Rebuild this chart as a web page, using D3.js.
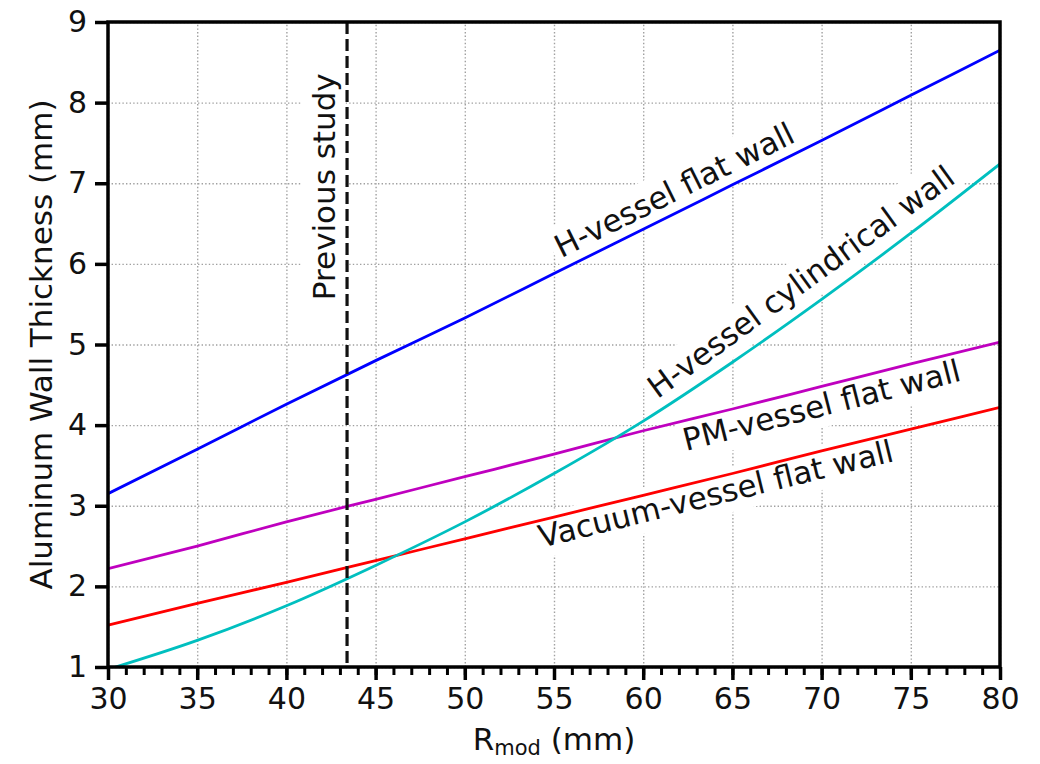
<!DOCTYPE html>
<html>
<head>
    <title>Aluminum Wall Thickness vs R_mod</title>
    <script src="https://cdn.jsdelivr.net/npm/d3@7"></script>
    <style>
        body {
            margin: 0;
            background-color: white;
            font-family: "DejaVu Sans", sans-serif;
        }
        .tick text {
            font-family: "DejaVu Sans", sans-serif;
        }
    </style>
</head>
<body>
    <div id="chart"></div>

    <script>
        // data
        const rmod = [30, 35, 40, 45, 50, 55, 60, 65, 70, 75, 80];
        const hVesselFlat = [3.15, 3.70, 4.26, 4.80, 5.33, 5.88, 6.43, 6.98, 7.53, 8.09, 8.65];
        const hVesselCyl = [0.97, 1.33, 1.76, 2.26, 2.80, 3.40, 4.05, 4.78, 5.56, 6.38, 7.24];
        const pmVesselFlat = [2.22, 2.50, 2.80, 3.08, 3.36, 3.64, 3.93, 4.20, 4.48, 4.76, 5.03];
        const vacVesselFlat = [1.52, 1.79, 2.05, 2.32, 2.59, 2.86, 3.13, 3.40, 3.68, 3.95, 4.22];
        const previousStudy = 43.4;

        const xTicks = [30, 35, 40, 45, 50, 55, 60, 65, 70, 75, 80];
        const xMinorTicks = d3.range(30, 81, 1);
        const yTicks = [1, 2, 3, 4, 5, 6, 7, 8, 9];

        const series = [
            { name: "H-vessel flat wall", values: hVesselFlat, color: "#0000ff" },
            { name: "PM-vessel flat wall", values: pmVesselFlat, color: "#bf00bf" },
            { name: "Vacuum-vessel flat wall", values: vacVesselFlat, color: "#ff0000" },
            { name: "H-vessel cylindrical wall", values: hVesselCyl, color: "#00bfbf" }
        ];

        // inline labels: anchor in data units + angle
        const labels = [
            { text: "H-vessel flat wall", x: 55.4, y: 6.07, angle: -26.4 },
            { text: "H-vessel cylindrical wall", x: 60.8, y: 4.32, angle: -36 },
            { text: "PM-vessel flat wall", x: 62.4, y: 3.68, angle: -14.3 },
            { text: "Vacuum-vessel flat wall", x: 54.3, y: 2.48, angle: -13.8 },
            { text: "Previous study", x: 42.7, y: 5.55, angle: -90 }
        ];

        const W = 1040, H = 764;
        const margin = { top: 22, right: 40, bottom: 97, left: 108 };
        const width = W - margin.left - margin.right;
        const height = H - margin.top - margin.bottom;

        const svg = d3.select("#chart")
            .append("svg")
            .attr("width", W)
            .attr("height", H);

        const g = svg.append("g")
            .attr("transform", `translate(${margin.left},${margin.top})`);

        const x = d3.scaleLinear().domain([30, 80]).range([0, width]);
        const y = d3.scaleLinear().domain([1, 9]).range([height, 0]);

        g.append("clipPath").attr("id", "clip")
            .append("rect").attr("width", width).attr("height", height);

        // grid
        const gridStyle = sel => sel.selectAll("line")
            .attr("stroke", "#a0a0a0")
            .attr("stroke-width", 1.4)
            .attr("stroke-dasharray", "1.4,2.2");

        g.append("g")
            .attr("transform", `translate(0,${height})`)
            .call(d3.axisBottom(x).tickValues(xTicks).tickSize(-height).tickFormat(""))
            .call(s => s.select(".domain").remove())
            .call(gridStyle);

        g.append("g")
            .call(d3.axisLeft(y).tickValues(yTicks).tickSize(-width).tickFormat(""))
            .call(s => s.select(".domain").remove())
            .call(gridStyle);

        // white boxes behind labels, drawn below the curves
        const boxLayer = g.append("g");
        const lineLayer = g.append("g").attr("clip-path", "url(#clip)");
        const textLayer = g.append("g");

        const line = d3.line()
            .x((d, i) => x(rmod[i]))
            .y(d => y(d))
            .curve(d3.curveMonotoneX);

        lineLayer.selectAll("path.series")
            .data(series)
            .enter()
            .append("path")
            .attr("class", "series")
            .attr("d", d => line(d.values))
            .attr("fill", "none")
            .attr("stroke", d => d.color)
            .attr("stroke-width", 2.8);

        // previous study marker
        g.append("line")
            .attr("x1", x(previousStudy))
            .attr("x2", x(previousStudy))
            .attr("y1", 0)
            .attr("y2", height)
            .attr("stroke", "#111")
            .attr("stroke-width", 3.2)
            .attr("stroke-dasharray", "12,5");

        labels.forEach(l => {
            const tr = `translate(${x(l.x)},${y(l.y)}) rotate(${l.angle})`;
            const t = textLayer.append("text")
                .attr("transform", tr)
                .attr("font-size", 31)
                .attr("fill", "#111")
                .text(l.text);
            const bb = t.node().getBBox();
            const pad = 4;
            boxLayer.append("rect")
                .attr("transform", tr)
                .attr("x", bb.x - pad)
                .attr("y", bb.y - pad)
                .attr("width", bb.width + 2 * pad)
                .attr("height", bb.height + 2 * pad)
                .attr("fill", "white");
        });

        // axes
        const xAxis = g.append("g")
            .attr("transform", `translate(0,${height})`)
            .call(d3.axisBottom(x).tickValues(xTicks).tickSize(13).tickPadding(8).tickFormat(d3.format("d")));
        xAxis.select(".domain").remove();
        xAxis.selectAll(".tick line").attr("stroke", "#000").attr("stroke-width", 3.5);
        xAxis.selectAll(".tick text").attr("font-size", 30).attr("fill", "#111");

        const xMinor = g.append("g")
            .attr("transform", `translate(0,${height})`)
            .call(d3.axisBottom(x).tickValues(xMinorTicks).tickSize(8).tickFormat(""));
        xMinor.select(".domain").remove();
        xMinor.selectAll(".tick line").attr("stroke", "#000").attr("stroke-width", 3);

        const yAxis = g.append("g")
            .call(d3.axisLeft(y).tickValues(yTicks).tickSize(13).tickPadding(8).tickFormat(d3.format("d")));
        yAxis.select(".domain").remove();
        yAxis.selectAll(".tick line").attr("stroke", "#000").attr("stroke-width", 3.5);
        yAxis.selectAll(".tick text").attr("font-size", 30).attr("fill", "#111");

        // frame
        g.append("rect")
            .attr("width", width)
            .attr("height", height)
            .attr("fill", "none")
            .attr("stroke", "#000")
            .attr("stroke-width", 3.5);

        // axis titles
        const xTitle = svg.append("text")
            .attr("x", margin.left + width / 2)
            .attr("y", 750)
            .attr("text-anchor", "middle")
            .attr("font-size", 31)
            .attr("fill", "#111");
        xTitle.append("tspan").text("R");
        xTitle.append("tspan").attr("font-size", 21).attr("dy", 5).text("mod");
        xTitle.append("tspan").attr("dy", -5).text(" (mm)");

        svg.append("text")
            .attr("transform", `translate(52,${margin.top + height / 2}) rotate(-90)`)
            .attr("text-anchor", "middle")
            .attr("font-size", 31)
            .attr("fill", "#111")
            .text("Aluminum Wall Thickness (mm)");
    </script>
</body>
</html>
